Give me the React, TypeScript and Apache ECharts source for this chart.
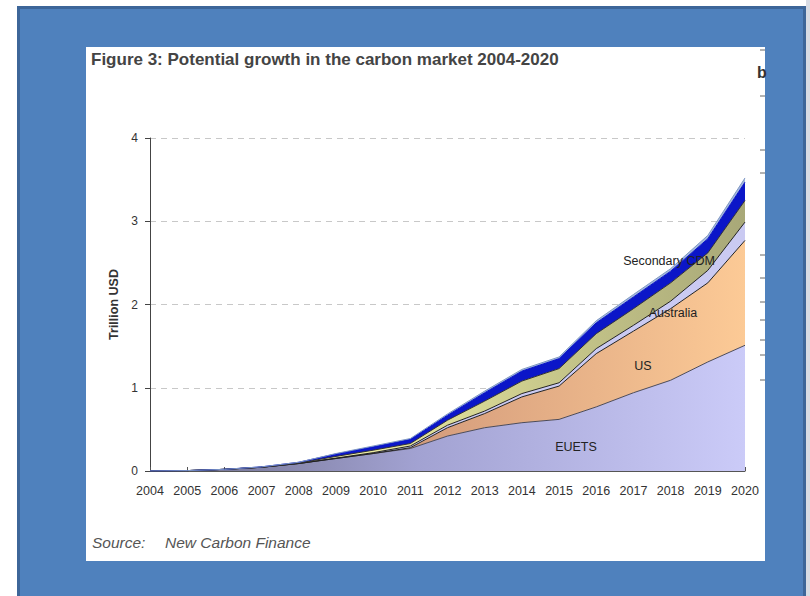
import React, { useEffect, useRef } from "react";
import * as echarts from "echarts";

const years = ["2004","2005","2006","2007","2008","2009","2010","2011","2012","2013","2014","2015","2016","2017","2018","2019","2020"];
const euets = [0, 0.005, 0.02, 0.045, 0.09, 0.15, 0.21, 0.27, 0.42, 0.52, 0.58, 0.62, 0.77, 0.94, 1.09, 1.31, 1.51];
const us = [0, 0, 0, 0, 0, 0, 0, 0.01, 0.10, 0.17, 0.31, 0.40, 0.64, 0.74, 0.86, 0.95, 1.26];
const cdm = [0, 0, 0, 0, 0, 0.005, 0.01, 0.02, 0.03, 0.03, 0.04, 0.04, 0.06, 0.07, 0.09, 0.15, 0.22];
const australia = [0, 0, 0, 0, 0.005, 0.02, 0.03, 0.03, 0.06, 0.12, 0.15, 0.17, 0.18, 0.20, 0.22, 0.21, 0.26];
const secondaryCdm = [0, 0, 0, 0.005, 0.01, 0.03, 0.04, 0.05, 0.06, 0.10, 0.12, 0.12, 0.13, 0.14, 0.14, 0.17, 0.22];
const other = [0, 0, 0, 0, 0, 0.005, 0.01, 0.01, 0.015, 0.02, 0.02, 0.02, 0.025, 0.03, 0.03, 0.04, 0.05];
const yTicks = [0, 1, 2, 3, 4];

const FONT = "'Liberation Sans', Arial, sans-serif";

export default function App() {
  const ref = useRef<HTMLDivElement>(null);
  useEffect(() => {
    if (!ref.current) return;
    const chart = echarts.init(ref.current, undefined, { renderer: "svg" });
    const grad = (stops: [number, string][]) =>
      new echarts.graphic.LinearGradient(0, 0, 1, 0, stops.map(([offset, color]) => ({ offset, color })));
    const mk = (name: string, data: number[], fill: any, line: string, lw = 1) => ({
      name,
      type: "line",
      stack: "total",
      data,
      symbol: "none",
      lineStyle: { color: line, width: lw },
      areaStyle: { color: fill, opacity: 1 },
      z: 2,
    });
    const labelText = (text: string, x: number, y: number) => ({
      type: "text",
      x,
      y,
      z: 10,
      style: { text, fill: "#222", font: `12.5px ${FONT}`, textAlign: "center", textVerticalAlign: "middle" },
    });
    const edgeTick = (y: number) => ({
      type: "line",
      shape: { x1: 760, y1: y, x2: 765, y2: y },
      style: { stroke: "#666", lineWidth: 1 },
    });
    chart.setOption({
      animation: false,
      backgroundColor: "transparent",
      grid: { left: 150, right: 65, top: 138, bottom: 125 },
      xAxis: {
        type: "category",
        data: years,
        boundaryGap: false,
        axisLine: { lineStyle: { color: "#555", width: 1 } },
        axisTick: { inside: true, length: 4, lineStyle: { color: "#555" } },
        axisLabel: { color: "#333", fontSize: 12.5, fontFamily: FONT, margin: 13 },
        splitLine: { show: false },
      },
      yAxis: {
        type: "value",
        min: yTicks[0],
        max: yTicks[yTicks.length - 1],
        interval: 1,
        name: "Trillion USD",
        nameLocation: "middle",
        nameGap: 30,
        nameRotate: 90,
        nameTextStyle: { color: "#333", fontSize: 12.5, fontWeight: "bold", fontFamily: FONT },
        axisLine: { show: true, lineStyle: { color: "#444", width: 1 } },
        axisTick: { show: true, length: 5, lineStyle: { color: "#444" } },
        axisLabel: { color: "#333", fontSize: 12, fontFamily: FONT, margin: 12 },
        splitLine: { show: true, lineStyle: { color: "#c8c8c8", type: [6, 5], width: 1 } },
      },
      series: [
        mk("EUETS", euets, grad([[0, "#6c6c88"], [0.45, "#a2a2d2"], [1, "#cbcbf8"]]), "#4a4a5a"),
        mk("US", us, grad([[0, "#9a7a70"], [0.5, "#d8a07e"], [1, "#fcca96"]]), "#222"),
        mk("CDM", cdm, "#cacaf2", "#222"),
        mk("Australia", australia, grad([[0, "#f4f4b4"], [0.35, "#eeeea4"], [0.65, "#caca8c"], [1, "#a8a878"]]), "#333"),
        mk("Secondary CDM", secondaryCdm, "#0b16c8", "#0b16c8"),
        mk("Other", other, "#a4b8dc", "#7f98c4"),
      ],
      graphic: [
        { type: "rect", z: -10, shape: { x: 17, y: 6, width: 789, height: 590 }, style: { fill: "#3d6699" } },
        { type: "rect", z: -9, shape: { x: 20, y: 9, width: 783, height: 587 }, style: { fill: "#4f81bd" } },
        { type: "rect", z: -8, shape: { x: 86, y: 47, width: 679, height: 514 }, style: { fill: "#ffffff" } },
        { type: "rect", z: -10, shape: { x: 806, y: 0, width: 4, height: 596 }, style: { fill: "#d8dce4" } },
        {
          type: "text", left: 91, top: 51, z: 10,
          style: { text: "Figure 3: Potential growth in the carbon market 2004-2020", fill: "#444", font: `bold 17px ${FONT}` },
        },
        {
          type: "text", left: 92, top: 534, z: 10,
          style: { text: "Source:", fill: "#555", font: `italic 15.5px ${FONT}` },
        },
        {
          type: "text", left: 165, top: 534, z: 10,
          style: { text: "New Carbon Finance", fill: "#555", font: `italic 15.5px ${FONT}` },
        },
        labelText("EUETS", 576, 447),
        labelText("US", 643, 366),
        labelText("Australia", 673, 313),
        labelText("Secondary CDM", 669, 261),
        {
          type: "text", x: 757, y: 64, z: 10,
          style: { text: "b", fill: "#333", font: `bold 16px ${FONT}` },
        },
        edgeTick(50), edgeTick(96), edgeTick(150), edgeTick(173), edgeTick(255), edgeTick(278),
        edgeTick(302), edgeTick(320), edgeTick(340), edgeTick(355), edgeTick(380),
      ],
    });
    return () => chart.dispose();
  }, []);
  return (
    <div
      ref={ref}
      style={{ position: "fixed", left: 0, top: 0, width: 810, height: 596, background: "#ffffff" }}
    />
  );
}
